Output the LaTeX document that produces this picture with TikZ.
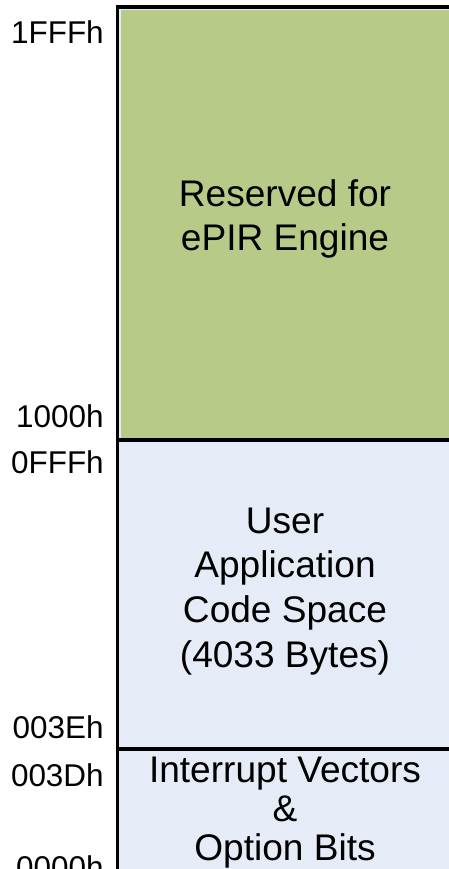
\documentclass[tikz,border=0pt]{standalone}
\usepackage{fontspec}
\setmainfont{Liberation Sans}
\definecolor{engine}{HTML}{B7CA88}
\definecolor{usercode}{HTML}{E6ECF7}
\tikzset{
  addr/.style = {anchor=base east, inner sep=0pt, font=\fontsize{23.6}{28}\selectfont},
  area/.style = {anchor=base, inner sep=0pt, align=center},
  border/.style = {line width=2.3pt, black},
}
\begin{document}
\begin{tikzpicture}[x=0.75pt, y=-0.75pt]
\useasboundingbox (0,0) rectangle (449,869);
\path [fill=usercode] (117.5,7) rectangle (455,900);
\path [fill=engine] (120.5,10.3) rectangle (455,440);
\draw [border] (117.5,900) -- (117.5,7) -- (455,7);
\draw [border] (117.5,440) -- (455,440);
\draw [border] (117.5,749) -- (455,749);
% addresses
\node [addr] (a1fff) at (104,43) {1FFFh};
\node [addr] (a1000) at (104,427) {1000h};
\node [addr] (a0fff) at (104,473) {0FFFh};
\node [addr] (a003e) at (104,738) {003Eh};
\node [addr] (a003d) at (104,786) {003Dh};
\node [addr] (a0000) at (104,878) {0000h};
% areas (base = last line)
\node [area, font=\fontsize{27.8}{32.5}\selectfont] (engine) at (285,250) {Reserved for\\ePIR Engine};
\node [area, font=\fontsize{27.8}{33.5}\selectfont] (user) at (285,667) {User\\Application\\Code Space\\(4033 Bytes)};
\node [area, font=\fontsize{27.8}{28.9}\selectfont] (vectors) at (285,860) {Interrupt Vectors\\\&\\Option Bits};
\end{tikzpicture}
\end{document}
